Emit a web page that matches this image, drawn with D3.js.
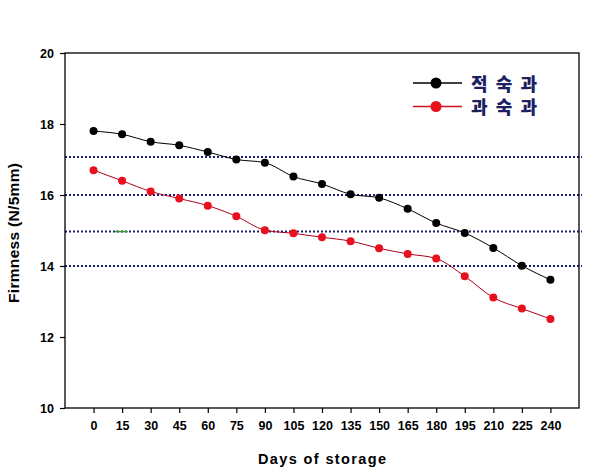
<!DOCTYPE html>
<html><head><meta charset="utf-8">
<script src="https://cdn.jsdelivr.net/npm/d3@7"></script>
<style>html,body{margin:0;padding:0;background:#fff;}</style>
</head><body>
<svg id="c" width="608" height="472"></svg>
<script>
const days = [0,15,30,45,60,75,90,105,120,135,150,165,180,195,210,225,240];
const seriesNames = ["적 숙 과","과 숙 과"];
const ripe = [17.80,17.71,17.50,17.40,17.21,17.00,16.91,16.52,16.31,16.02,15.92,15.61,15.21,14.93,14.51,14.01,13.61];
const overripe = [16.70,16.40,16.10,15.90,15.70,15.40,15.01,14.92,14.81,14.70,14.50,14.34,14.21,13.71,13.11,12.80,12.51];
const yTicks = [10,12,14,16,18,20];
const refLines = [17.07,16,14.97,14];

const svg = d3.select("#c");
const L=65,R=579,T=53,B=408;
const x = d3.scaleLinear().domain([-15,255]).range([L,R]);
const y = d3.scaleLinear().domain([10,20]).range([B,T]);
const font = "Arial, 'Liberation Sans', sans-serif";

// reference dotted lines
svg.selectAll("line.ref").data(refLines).enter().append("line")
  .attr("x1",L).attr("x2",R+3).attr("y1",d=>y(d)).attr("y2",d=>y(d))
  .attr("stroke","#1a1f6e").attr("stroke-width",2).attr("stroke-dasharray","2,2");

// small green artifact
svg.append("line").attr("x1",x(11)).attr("x2",x(18)).attr("y1",y(14.97)).attr("y2",y(14.97))
  .attr("stroke","#3a9a3a").attr("stroke-width",1.5);

// frame
svg.append("rect").attr("x",L).attr("y",T).attr("width",R-L).attr("height",B-T)
  .attr("fill","none").attr("stroke","#000").attr("stroke-width",1.3);

// axes
const yAxis = svg.append("g").attr("transform",`translate(${L},0)`)
  .call(d3.axisLeft(y).tickValues(yTicks).tickSize(5).tickPadding(6).tickFormat(d3.format("d")));
const xAxis = svg.append("g").attr("transform",`translate(0,${B})`)
  .call(d3.axisBottom(x).tickValues(days).tickSize(5).tickPadding(8).tickFormat(d3.format("d")));
[yAxis,xAxis].forEach(g=>{
  g.select(".domain").remove();
  g.selectAll("line").attr("stroke","#000").attr("stroke-width",1.2);
  g.selectAll("text").attr("font-family",font).attr("font-weight","bold").attr("font-size",12.5).attr("fill","#000");
});

// lines
const colors = [{line:"#000",dot:"#000",leg:"#000"},{line:"#b0001a",dot:"#e8101c",leg:"#d0101c"}];
const data = [ripe, overripe];
const lineGen = d3.line().x((d,i)=>x(days[i])).y(d=>y(d)).curve(d3.curveMonotoneX);
data.forEach((s,k)=>{
  svg.append("path").datum(s).attr("d",lineGen).attr("fill","none")
    .attr("stroke",colors[k].line).attr("stroke-width",1);
  svg.selectAll(null).data(s).enter().append("circle")
    .attr("cx",(d,i)=>x(days[i])).attr("cy",d=>y(d)).attr("r",4)
    .attr("fill",colors[k].dot);
});

// legend
seriesNames.forEach((n,k)=>{
  const ly = 83 + k*23.5;
  svg.append("line").attr("x1",413).attr("x2",462).attr("y1",ly).attr("y2",ly)
    .attr("stroke",colors[k].leg).attr("stroke-width",1.5);
  svg.append("circle").attr("cx",436).attr("cy",ly).attr("r",5.5).attr("fill",colors[k].dot);
  svg.append("text").attr("x",471).attr("y",ly+7.5).text(n)
    .attr("font-family","'Noto Sans CJK KR', sans-serif").attr("font-weight","900")
    .attr("font-size",18).attr("fill","#1c2060")
    .attr("textLength",66).attr("lengthAdjust","spacing");
});

// axis titles
svg.append("text").attr("x",258).attr("y",464)
  .attr("font-family",font).attr("font-weight","bold").attr("font-size",14.5)
  .attr("textLength",128).attr("lengthAdjust","spacing")
  .text("Days of storage");
svg.append("text").attr("transform",`translate(18.5,303) rotate(-90)`)
  .attr("font-family",font).attr("font-weight","bold").attr("font-size",15.5)
  .attr("textLength",140).attr("lengthAdjust","spacing")
  .text("Firmness (N/5mm)");
</script>
</body></html>
